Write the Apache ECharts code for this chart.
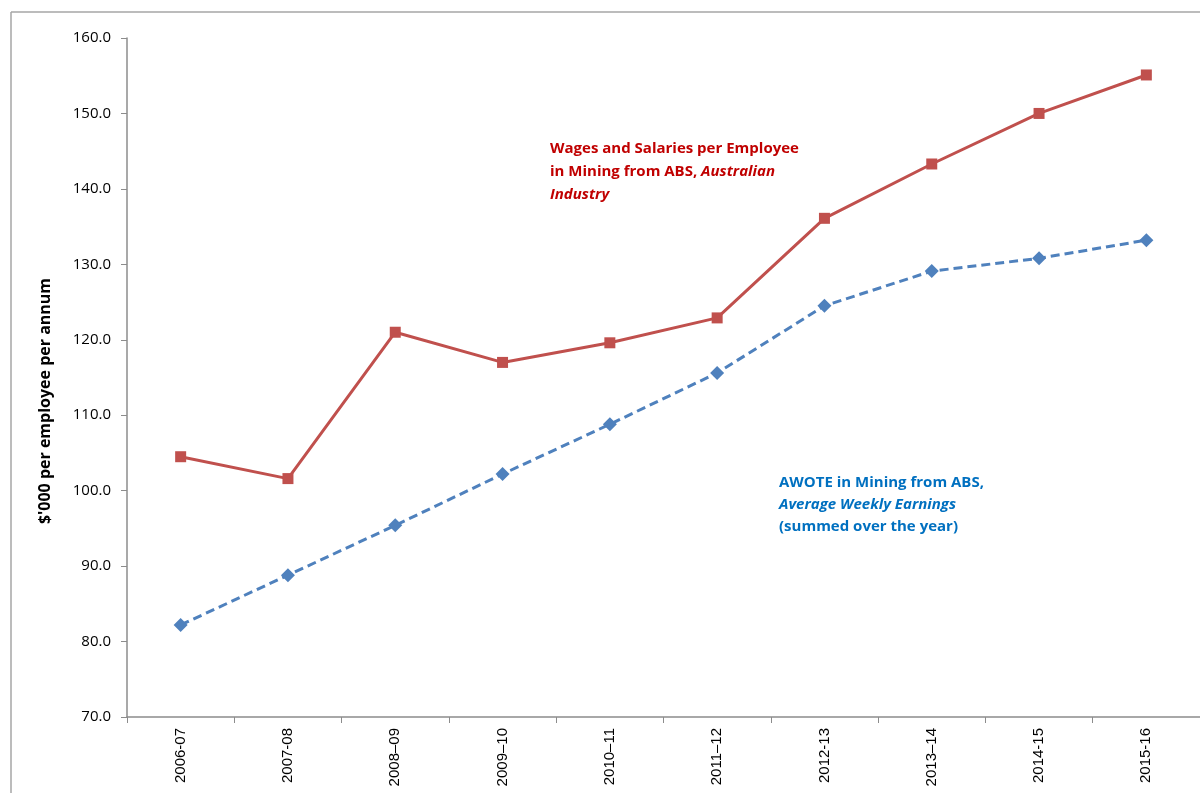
<!DOCTYPE html>
<html><head><meta charset="utf-8">
<script src="https://cdn.jsdelivr.net/npm/echarts@6/dist/echarts.min.js"></script>
<style>html,body{margin:0;padding:0;background:#fff}#c{width:1200px;height:793px}</style>
</head><body><div id="c"></div>
<script>
const categories = ["2006-07","2007-08","2008\u201309","2009\u201310","2010\u201311","2011\u201312","2012-13","2013\u201314","2014-15","2015-16"];
const wagesSalaries = [104.5, 101.6, 121.0, 117.0, 119.6, 122.9, 136.1, 143.3, 150.0, 155.1];
const awote = [82.2, 88.8, 95.4, 102.2, 108.8, 115.6, 124.5, 129.1, 130.8, 133.2];
const yTicks = {min: 70, max: 160, interval: 10};
const yAxisTitle = "$'000 per employee per annum";

const FONT = "'Open Sans', 'Liberation Sans', sans-serif";
const chart = echarts.init(document.getElementById('c'));
chart.setOption({
  animation: false,
  backgroundColor: '#fff',
  grid: {left: 127, top: 38, right: 0, bottom: 76},
  xAxis: {
    type: 'category', data: categories, boundaryGap: true,
    axisLine: {lineStyle: {color: '#8c8c8c', width: 1.5}},
    axisTick: {show: true, length: 6, lineStyle: {color: '#8c8c8c'}},
    axisLabel: {rotate: 90, color: '#000', fontFamily: "'Liberation Sans', Arial, sans-serif", fontSize: 15, margin: 11}
  },
  yAxis: {
    type: 'value', min: yTicks.min, max: yTicks.max, interval: yTicks.interval,
    axisLine: {show: true, lineStyle: {color: '#8c8c8c', width: 1.5}},
    axisTick: {show: true, length: 6, lineStyle: {color: '#8c8c8c'}},
    splitLine: {show: false},
    axisLabel: {color: '#000', fontFamily: FONT, fontSize: 15, margin: 16,
      formatter: v => v.toFixed(1)}
  },
  series: [
    {name: 'Wages and Salaries', type: 'line', data: wagesSalaries,
     symbol: 'rect', symbolSize: 11,
     lineStyle: {color: '#C0504D', width: 3},
     itemStyle: {color: '#C0504D'}},
    {name: 'AWOTE', type: 'line', data: awote,
     symbol: 'diamond', symbolSize: 14,
     lineStyle: {color: '#4F81BD', width: 3, type: [9, 5]},
     itemStyle: {color: '#4F81BD'}}
  ],
  graphic: [
    {type: 'line', shape: {x1: 11, y1: 12, x2: 1200, y2: 12}, style: {stroke: '#a6a6a6', lineWidth: 1.5}},
    {type: 'line', shape: {x1: 11, y1: 12, x2: 11, y2: 793}, style: {stroke: '#a6a6a6', lineWidth: 1.5}},
    {type: 'text', x: 45, y: 401, rotation: Math.PI / 2, style: {
      text: yAxisTitle, fill: '#000', font: "bold 16px " + FONT, align: 'center', verticalAlign: 'middle'
    }},
    {type: 'text', left: 550, top: 137, style: {
      text: 'Wages and Salaries per Employee\nin Mining from ABS, {i|Australian}\n{i|Industry}',
      fill: '#C00000', font: "bold 15px " + FONT, lineHeight: 23,
      rich: {i: {fontStyle: 'italic', fontWeight: 'bold', fontSize: 15, fontFamily: FONT, fill: '#C00000', lineHeight: 23}}
    }},
    {type: 'text', left: 779, top: 472, style: {
      text: 'AWOTE in Mining from ABS,\n{i|Average Weekly Earnings}\n(summed over the year)',
      fill: '#0070C0', font: "bold 15px " + FONT, lineHeight: 22,
      rich: {i: {fontStyle: 'italic', fontWeight: 'bold', fontSize: 15, fontFamily: FONT, fill: '#0070C0', lineHeight: 22}}
    }}
  ]
});
</script></body></html>
